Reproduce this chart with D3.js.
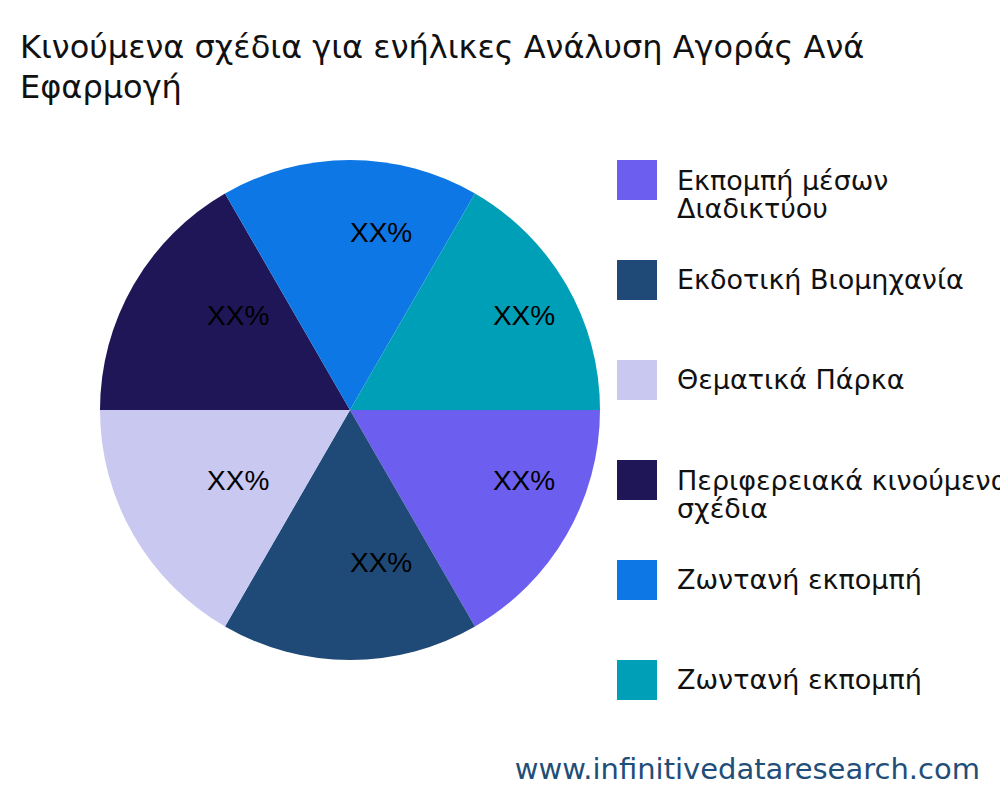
<!DOCTYPE html>
<html><head><meta charset="utf-8">
<script src="https://cdn.jsdelivr.net/npm/d3@7"></script>
<style>body{margin:0;background:#fff}</style></head>
<body><svg id="c" width="1000" height="800"></svg>
<script>
const categories = ["Εκπομπή μέσων Διαδικτύου","Εκδοτική Βιομηχανία","Θεματικά Πάρκα","Περιφερειακά κινούμενα σχέδια","Ζωντανή εκπομπή","Ζωντανή εκπομπή"];
const legendLines = [["Εκπομπή μέσων","Διαδικτύου"],["Εκδοτική Βιομηχανία"],["Θεματικά Πάρκα"],["Περιφερειακά κινούμενα","σχέδια"],["Ζωντανή εκπομπή"],["Ζωντανή εκπομπή"]];
const values = [1,1,1,1,1,1];
const labels = ["XX%","XX%","XX%","XX%","XX%","XX%"];
const colors = ["#6c5ff0","#1f4a78","#c8c8f0","#1e1656","#0e77e6","#009fb8"];

const svg = d3.select("#c");
const tf = "DejaVu Sans";
svg.append("text").attr("x",20).attr("y",58).attr("font-family",tf).attr("font-size",32).attr("fill","#111")
  .text("Κινούμενα σχέδια για ενήλικες Ανάλυση Αγοράς Ανά");
svg.append("text").attr("x",20).attr("y",98).attr("font-family",tf).attr("font-size",32).attr("fill","#111")
  .text("Εφαρμογή");

const pie = d3.pie().sort(null).startAngle(Math.PI/2).endAngle(Math.PI/2+2*Math.PI);
const arcs = pie(values);
const arc = d3.arc().innerRadius(0).outerRadius(250);
const lab = d3.arc().innerRadius(165).outerRadius(165);
const g = svg.append("g").attr("transform","translate(350,410)");
g.selectAll("path").data(arcs).join("path").attr("d",arc).attr("fill",(d,i)=>colors[i]);
g.selectAll("text").data(arcs).join("text")
  .attr("x",d=>lab.centroid(d)[0]).attr("y",d=>lab.centroid(d)[1]-3)
  .attr("font-family","Liberation Sans, Arial").attr("font-size",28).attr("fill","#000")
  .text((d,i)=>labels[i]);

const lg = svg.append("g");
categories.forEach((c,i)=>{
  const y = 160 + i*100;
  lg.append("rect").attr("x",617).attr("y",y).attr("width",40).attr("height",40).attr("fill",colors[i]);
  const t = lg.append("text").attr("font-family",tf).attr("font-size",27).attr("fill","#111");
  const lines = legendLines[i];
  const y0 = lines.length>1 ? y+30 : y+29;
  lines.forEach((l,k)=>t.append("tspan").attr("x",677).attr("y",y0+k*28).text(l));
});

svg.append("text").attr("x",980).attr("y",779).attr("text-anchor","end").attr("font-family","DejaVu Sans")
  .attr("font-size",29).attr("fill","#1f4e79").text("www.infinitivedataresearch.com");
</script></body></html>
